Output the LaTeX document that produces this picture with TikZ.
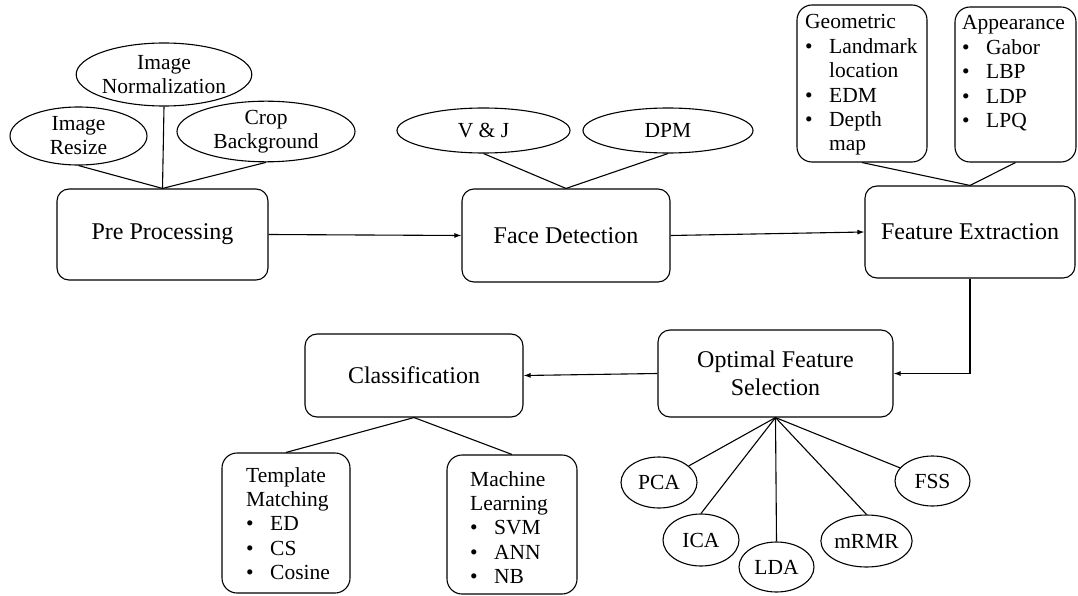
\documentclass[tikz,border=0pt]{standalone}
\usepackage{fontspec}
\setmainfont{Liberation Serif}
\usetikzlibrary{shapes.geometric,arrows.meta}
\newcommand{\bul}{\makebox[24pt][l]{\textbullet}}
\newcommand{\ind}{\hspace*{24pt}}
\tikzset{
 mainbox/.style={draw, rounded corners=12pt, line width=1.1pt, font=\fontsize{24}{28}\selectfont, align=center, inner sep=0pt},
 listbox/.style={draw, rounded corners=15pt, line width=1.1pt, inner sep=0pt},
 oval/.style={draw, ellipse, line width=1.1pt, inner sep=0pt, font=\fontsize{21.5}{24}\selectfont, align=center},
 listtxt/.style={anchor=base west, inner sep=0pt, text width=120pt, align=left, font=\fontsize{21.5}{24.4}\selectfont},
 conn/.style={line width=1.1pt},
 arr/.style={line width=1.1pt, -{Latex[length=7pt,width=5pt]}},
}
\begin{document}
\begin{tikzpicture}[x=1pt,y=-1pt]
\useasboundingbox (0,0) rectangle (1078,596);
% main boxes
\node[mainbox, minimum width=211pt, minimum height=91pt] (pre) at (162.5,234.5) {Pre Processing};
\node[mainbox, minimum width=208pt, minimum height=93pt] (fd) at (566,235.5) {Face Detection};
\node[mainbox, minimum width=210pt, minimum height=92pt] (fe) at (970,232) {Feature Extraction};
\node[mainbox, minimum width=235pt, minimum height=87pt] (ofs) at (775.5,373.5) {Optimal Feature\\Selection};
\node[mainbox, minimum width=218pt, minimum height=83pt] (cls) at (414,375.5) {Classification};
% ellipses top
\node[oval, minimum width=174pt, minimum height=63pt] (norm) at (164,74.5) {Image\\Normalization};
\node[oval, minimum width=137pt, minimum height=58pt] (resize) at (78.5,136) {Image\\Resize};
\node[oval, minimum width=178pt, minimum height=59pt] (crop) at (266,131.5) {Crop\\Background};
\node[oval, minimum width=173pt, minimum height=45pt] (vj) at (483.5,130.5) {V \& J};
\node[oval, minimum width=170pt, minimum height=45pt] (dpm) at (668,130.5) {DPM};
% list boxes
\node[listbox, minimum width=130pt, minimum height=157pt] (geo) at (862,83.5) {};
\node[listtxt] (geot) at (805,29) {Geometric\\\bul Landmark\\\ind location\\\bul EDM\\\bul Depth\\\ind map};
\node[listbox, minimum width=121pt, minimum height=155pt] (app) at (1015.5,84.5) {};
\node[listtxt] (appt) at (962,30) {Appearance\\\bul Gabor\\\bul LBP\\\bul LDP\\\bul LPQ};
\node[listbox, minimum width=128pt, minimum height=140pt] (tm) at (286,523) {};
\node[listtxt] (tmt) at (246,482) {Template\\Matching\\\bul ED\\\bul CS\\\bul Cosine};
\node[listbox, minimum width=130pt, minimum height=139pt] (ml) at (512,524.5) {};
\node[listtxt] (mlt) at (470,486) {Machine\\Learning\\\bul SVM\\\bul ANN\\\bul NB};
% circles
\node[oval, minimum width=76pt, minimum height=51pt] (pca) at (659,482.5) {PCA};
\node[oval, minimum width=76pt, minimum height=52pt] (ica) at (701,540) {ICA};
\node[oval, minimum width=75pt, minimum height=50pt] (lda) at (776.5,567) {LDA};
\node[oval, minimum width=75pt, minimum height=52pt] (mrmr) at (866.5,541) {mRMR};
\node[oval, minimum width=75pt, minimum height=50pt] (fss) at (932.5,481) {FSS};
% connectors
\draw[conn] (resize.south) -- (pre.north);
\draw[conn] (norm.south) -- (pre.north);
\draw[conn] (crop.south) -- (pre.north);
\draw[conn] (vj.south) -- (fd.north);
\draw[conn] (dpm.south) -- (fd.north);
\draw[conn] (geo.south) -- (fe.north);
\draw[conn] (app.south) -- (fe.north);
\draw[arr] (pre.east) -- (fd.west);
\draw[arr] (fd.east) -- (fe.west);
\draw[arr] (fe.south) |- (ofs.east);
\draw[arr] (ofs.west) -- (cls.east);
\draw[conn] (cls.south) -- (tm.north);
\draw[conn] (cls.south) -- (ml.north);
\draw[conn] (ofs.south) -- (pca);
\draw[conn] (ofs.south) -- (ica.north);
\draw[conn] (ofs.south) -- (lda.north);
\draw[conn] (ofs.south) -- (mrmr.north);
\draw[conn] (ofs.south) -- (fss);
\end{tikzpicture}
\end{document}
